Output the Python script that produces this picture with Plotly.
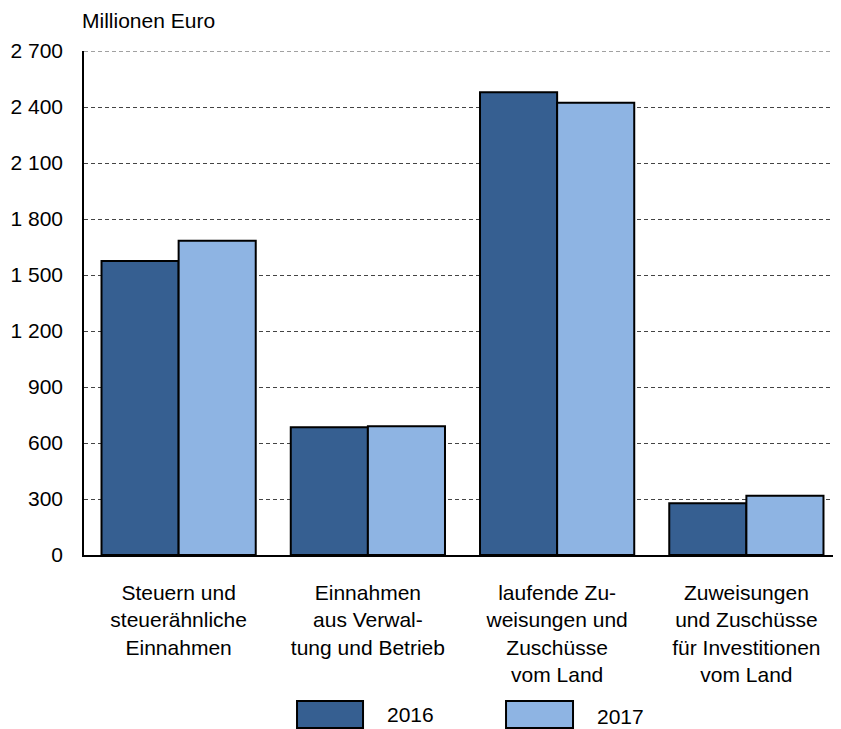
import plotly.graph_objects as go

categories = [
    "Steuern und<br>steuerähnliche<br>Einnahmen",
    "Einnahmen<br>aus Verwal-<br>tung und Betrieb",
    "laufende Zu-<br>weisungen und<br>Zuschüsse<br>vom Land",
    "Zuweisungen<br>und Zuschüsse<br>für Investitionen<br>vom Land",
]
values_2016 = [1575, 684, 2479, 277]
values_2017 = [1684, 690, 2423, 318]
series_names = ["2016", "2017"]
y_tickvals = [0, 300, 600, 900, 1200, 1500, 1800, 2100, 2400, 2700]
y_ticktext = ["0", "300", "600", "900", "1 200", "1 500", "1 800", "2 100", "2 400", "2 700"]
y_max = 2700

dark = "#365F91"
light = "#8EB4E3"
FONT = "Liberation Sans, Arial, sans-serif"
FS = 21

fig = go.Figure()
fig.add_trace(go.Bar(x=categories, y=values_2016, name=series_names[0],
                     marker=dict(color=dark, line=dict(color="black", width=2)),
                     showlegend=False))
fig.add_trace(go.Bar(x=categories, y=values_2017, name=series_names[1],
                     marker=dict(color=light, line=dict(color="black", width=2)),
                     showlegend=False))

# page body has an 8px margin, so the figure is shifted by 8px
fig.update_layout(
    width=833, height=721,
    margin=dict(l=76, r=0, t=43, b=174),
    plot_bgcolor="white", paper_bgcolor="white",
    barmode="group", bargap=0.185, bargroupgap=0,
    font=dict(family=FONT, size=FS, color="black"),
)
fig.update_yaxes(
    range=[0, y_max], tickvals=y_tickvals, ticktext=y_ticktext,
    showgrid=True, gridcolor="#444444", gridwidth=1, griddash="4px,3px",
    showline=True, linecolor="black", linewidth=1.5,
    zeroline=False, ticks="", ticklabelstandoff=15,
    tickfont=dict(size=FS),
)
fig.update_xaxes(
    showline=True, linecolor="black", linewidth=1.5,
    ticks="", ticklabelstandoff=18, tickfont=dict(size=FS),
)

# top gridline (plotly hides gridlines at the range edge)
fig.add_hline(y=y_max, line=dict(color="#444444", width=1, dash="4px,3px"))

fig.add_annotation(text="Millionen Euro", xref="paper", yref="paper",
                   x=0.0, y=1.0, xanchor="left", yanchor="middle",
                   xshift=-4, yshift=31,
                   showarrow=False, font=dict(size=FS))

# custom legend
leg = [(0.2814, 0.3686, dark, series_names[0], -0.317),
       (0.5575, 0.6460, light, series_names[1], -0.320)]
for x0, x1, col, name, ty in leg:
    fig.add_shape(type="rect", xref="paper", yref="paper",
                  x0=x0, x1=x1, y0=-0.3433, y1=-0.2897,
                  fillcolor=col, line=dict(color="black", width=2))
    fig.add_annotation(text=name, xref="paper", yref="paper",
                       x=x1 + 0.029, y=ty, xanchor="left", yanchor="middle",
                       showarrow=False, font=dict(size=FS))

fig.write_html("out.html")
